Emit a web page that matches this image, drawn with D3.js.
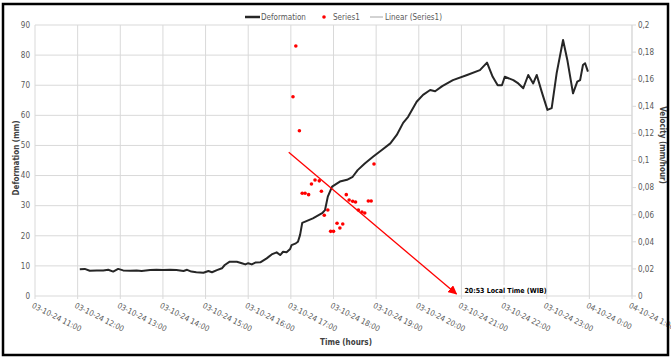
<!DOCTYPE html>
<html>
<head>
<meta charset="utf-8">
<script src="https://cdn.jsdelivr.net/npm/d3@7"></script>
<style>
  body { margin: 0; background: #fff; }
  text { font-family: 'Liberation Sans Narrow', 'DejaVu Sans Condensed', 'Liberation Sans', sans-serif; }
</style>
</head>
<body>
<script>
// deformation series (time on 03-10-24, mm)
const defTimes = ["12:03","12:10","12:17","12:27","12:36","12:43","12:50","12:57","13:04","13:14","13:23","13:30","13:42","13:51","14:00","14:10","14:19","14:29","14:34","14:40","14:47","14:57","15:04","15:09","15:16","15:23","15:27","15:34","15:44","15:51","15:56","16:00","16:05","16:10","16:17","16:26","16:33","16:40","16:45","16:49","16:54","16:59","17:01","17:07","17:10","17:13","17:16","17:31","17:44","17:48","17:52","17:58","18:09","18:19","18:27","18:34","18:44","18:56","19:08","19:20","19:29","19:38","19:45","19:57","20:06","20:16","20:23","20:33","20:48","21:08","21:26","21:36","21:44","21:51","21:57","22:01","22:13","22:20","22:27","22:34","22:41","22:46","22:53","23:01","23:07","23:14","23:23","23:29","23:37","23:43","23:47","23:51","23:54","23:58"]
const defValues = [8.9,9.0,8.4,8.5,8.5,8.7,8.1,9.0,8.5,8.4,8.5,8.3,8.6,8.7,8.6,8.7,8.6,8.3,8.7,8.1,7.9,7.7,8.3,7.9,8.6,9.2,10.3,11.4,11.4,10.9,10.5,10.9,10.5,11.1,11.2,12.5,13.8,14.5,13.6,14.7,14.5,15.6,16.9,17.5,18.0,20.3,24.3,25.8,27.5,28.5,33,36.3,38,38.6,39.6,41.8,44,46.3,48.5,50.7,53.5,57.5,59.5,64.5,66.8,68.4,68,69.7,71.7,73.4,75,77.5,72.8,70,70,72.8,71.7,70.6,69,73.4,70.6,73.4,67.8,61.8,62.4,74,85,78.4,67.3,71.2,71.7,76.7,77.3,74.5]

// Series1 velocity points (mm/hour)
const velTimes = ["17:03","17:07","17:12","17:16","17:20","17:25","17:29","17:34","17:40","17:43","17:47","17:52","17:56","18:00","18:05","18:09","18:13","18:18","18:22","18:27","18:31","18:35","18:40","18:44","18:49","18:53","18:57"]
const velValues = [0.147,0.1845,0.122,0.0758,0.0758,0.0748,0.0827,0.0856,0.085,0.0773,0.0596,0.0635,0.0477,0.0477,0.0537,0.0502,0.0531,0.0748,0.0708,0.0699,0.0694,0.0635,0.062,0.0613,0.0701,0.0701,0.0974]

// linear trend arrow (start, end)
const trendTimes = ["03-10-24 16:57","03-10-24 20:53"]
const trendValues = [0.106,0]
const trendLabel = "20:53 Local Time (WIB)"

const leftTicks = [0,10,20,30,40,50,60,70,80,90]
const rightTicks = [0,0.02,0.04,0.06,0.08,0.1,0.12,0.14,0.16,0.18,0.2]
const xDomain = ["03-10-24 11:00","04-10-24 01:00"]

const W = 671, H = 358
const m = {left: 35, right: 632, top: 25, bottom: 296}
const parse = d3.timeParse("%d-%m-%y %H:%M")
const day = t => parse("03-10-24 " + t)

const svg = d3.select("body").append("svg").attr("width", W).attr("height", H)

const x = d3.scaleTime().domain(xDomain.map(parse)).range([m.left, m.right])
const yL = d3.scaleLinear().domain([0, 90]).range([m.bottom, m.top])
const yR = d3.scaleLinear().domain([0, 0.2]).range([m.bottom, m.top])

svg.append("defs").append("marker")
    .attr("id", "arr").attr("viewBox", "0 0 10 10").attr("refX", 9).attr("refY", 5)
    .attr("markerWidth", 7).attr("markerHeight", 7).attr("orient", "auto")
  .append("path").attr("d", "M0,0 L10,5 L0,10 z").attr("fill", "#ff0000")

// grid
const g = svg.append("g")
g.selectAll(".hg").data(leftTicks).enter().append("line")
    .attr("x1", m.left).attr("x2", m.right)
    .attr("y1", d => yL(d)).attr("y2", d => yL(d))
    .attr("stroke", "#d9d9d9").attr("stroke-width", 1)
const xt = x.ticks(d3.timeHour.every(1))
g.selectAll(".vg").data(xt).enter().append("line")
    .attr("x1", d => x(d)).attr("x2", d => x(d))
    .attr("y1", m.top).attr("y2", m.bottom + 3)
    .attr("stroke", "#d9d9d9").attr("stroke-width", 1)
// right axis ticks
g.selectAll(".rt").data(rightTicks).enter().append("line")
    .attr("x1", m.right).attr("x2", m.right + 4)
    .attr("y1", d => yR(d)).attr("y2", d => yR(d))
    .attr("stroke", "#d9d9d9")
g.append("line").attr("x1", m.right).attr("x2", m.right).attr("y1", m.top).attr("y2", m.bottom).attr("stroke", "#d9d9d9")

// axis labels
g.selectAll(".lt").data(leftTicks).enter().append("text")
    .attr("x", 30).attr("y", d => yL(d)).attr("dy", "0.35em")
    .attr("text-anchor", "end").attr("font-size", 8).attr("fill", "#595959")
    .text(d => d)
g.selectAll(".rl").data(rightTicks).enter().append("text")
    .attr("x", 638).attr("y", d => yR(d)).attr("dy", "0.35em")
    .attr("font-size", 8).attr("fill", "#595959")
    .text(d => String(d).replace(".", ","))
const fmt = d3.timeFormat("%d-%m-%y %-H:%M")
g.selectAll(".xl").data(xt).enter().append("text")
    .attr("transform", d => `translate(${x(d) - 1},${m.bottom + 6}) rotate(27)`)
    .attr("dy", "0.75em").attr("font-size", 7.8).attr("fill", "#595959")
    .text(d => fmt(d))

svg.append("text").attr("transform", "translate(19,158) rotate(-90)")
    .attr("text-anchor", "middle").attr("font-size", 8).attr("font-weight", "bold").attr("fill", "#404040")
    .text("Deformation (mm)")
svg.append("text").attr("transform", "translate(660,145) rotate(90)")
    .attr("text-anchor", "middle").attr("font-size", 8).attr("font-weight", "bold").attr("fill", "#404040")
    .text("Velocity (mm/hour)")
svg.append("text").attr("x", 346).attr("y", 345)
    .attr("text-anchor", "middle").attr("font-size", 8).attr("font-weight", "bold").attr("fill", "#404040")
    .text("Time (hours)")

// deformation line
const defData = defTimes.map((t, i) => [day(t), defValues[i]])
svg.append("path").datum(defData)
    .attr("fill", "none").attr("stroke", "#262626").attr("stroke-width", 2)
    .attr("stroke-linejoin", "round")
    .attr("d", d3.line().x(d => x(d[0])).y(d => yL(d[1])))

// Series1 dots
svg.selectAll(".dot").data(velTimes.map((t, i) => [day(t), velValues[i]])).enter()
  .append("circle")
    .attr("cx", d => x(d[0])).attr("cy", d => yR(d[1]))
    .attr("r", 1.8).attr("fill", "#ff0000")

// trend arrow
const tr = trendTimes.map((t, i) => [parse(t), trendValues[i]])
svg.append("line")
    .attr("x1", x(tr[0][0])).attr("y1", yR(tr[0][1]))
    .attr("x2", x(tr[1][0])).attr("y2", yR(tr[1][1]) - 2)
    .attr("stroke", "#ff0000").attr("stroke-width", 1.3)
    .attr("marker-end", "url(#arr)")
const lbX = x(tr[1][0]) + 8
svg.append("rect").attr("x", lbX - 2).attr("y", 285).attr("width", 66).attr("height", 10).attr("fill", "#fff")
svg.append("text").attr("x", lbX).attr("y", 293)
    .attr("font-size", 7).attr("font-weight", "bold").attr("fill", "#000")
    .text(trendLabel)

// legend
const lg = svg.append("g").attr("transform", "translate(0,17)")
lg.append("line").attr("x1", 245).attr("x2", 260).attr("stroke", "#262626").attr("stroke-width", 2.5)
lg.append("text").attr("x", 261).attr("dy", "0.35em").attr("font-size", 8).attr("fill", "#595959").text("Deformation")
lg.append("circle").attr("cx", 324).attr("r", 1.8).attr("fill", "#ff0000")
lg.append("text").attr("x", 333).attr("dy", "0.35em").attr("font-size", 8).attr("fill", "#595959").text("Series1")
lg.append("line").attr("x1", 370).attr("x2", 383).attr("stroke", "#a6a6a6").attr("stroke-width", 1)
lg.append("text").attr("x", 385).attr("dy", "0.35em").attr("font-size", 8).attr("fill", "#595959").text("Linear (Series1)")

// outer border
svg.append("rect").attr("x", 3).attr("y", 4).attr("width", 665).attr("height", 351)
    .attr("fill", "none").attr("stroke", "#000").attr("stroke-width", 2.5)
</script>
</body>
</html>
